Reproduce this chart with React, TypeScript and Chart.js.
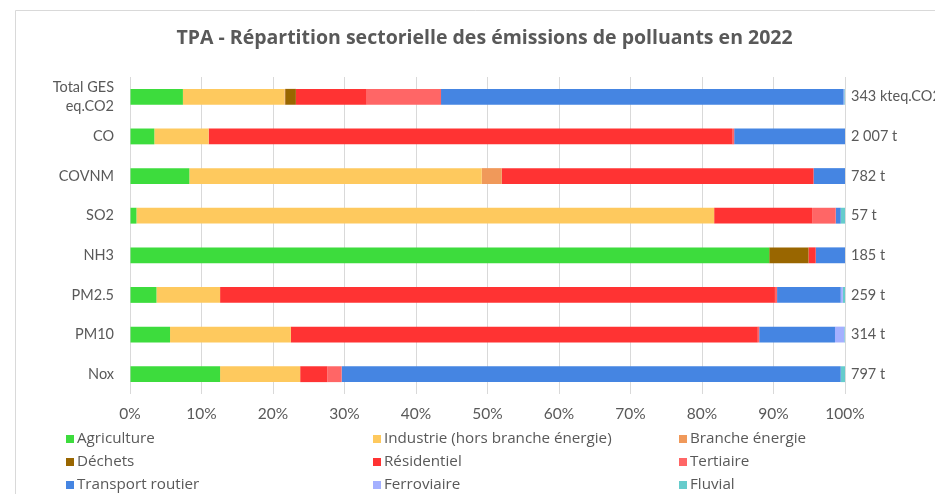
import React, { useEffect, useRef } from "react";
import { Chart, registerables } from "chart.js";

Chart.register(...registerables);

const categories: (string | string[])[] = [
  ["Total GES", "eq.CO2"],
  "CO",
  "COVNM",
  "SO2",
  "NH3",
  "PM2.5",
  "PM10",
  "Nox",
];

const totals = ["343 kteq.CO2", "2 007 t", "782 t", "57 t", "185 t", "259 t", "314 t", "797 t"];

const agriculture = [7.4, 3.4, 8.3, 0.9, 89.4, 3.7, 5.6, 12.6];
const industrie = [14.2, 7.6, 40.9, 80.8, 0, 8.9, 16.9, 11.2];
const brancheEnergie = [0.1, 0, 2.8, 0, 0, 0, 0, 0];
const dechets = [1.5, 0, 0, 0, 5.5, 0, 0, 0];
const residentiel = [9.9, 73.2, 43.6, 13.7, 1.0, 77.6, 65.3, 3.8];
const tertiaire = [10.4, 0.3, 0, 3.3, 0, 0.3, 0.2, 2.0];
const transportRoutier = [56.3, 15.5, 4.4, 0.7, 4.1, 8.9, 10.6, 69.8];
const ferroviaire = [0.1, 0, 0, 0, 0, 0.3, 1.3, 0];
const fluvial = [0.1, 0, 0, 0.6, 0, 0.3, 0.1, 0.6];

const seriesNames = [
  "Agriculture",
  "Industrie (hors branche énergie)",
  "Branche énergie",
  "Déchets",
  "Résidentiel",
  "Tertiaire",
  "Transport routier",
  "Ferroviaire",
  "Fluvial",
];
const seriesValues = [
  agriculture,
  industrie,
  brancheEnergie,
  dechets,
  residentiel,
  tertiaire,
  transportRoutier,
  ferroviaire,
  fluvial,
];
const seriesColors = [
  "#3ddc3d",
  "#fec95e",
  "#f0995a",
  "#996600",
  "#ff3333",
  "#ff6666",
  "#4585e2",
  "#a4b0ff",
  "#66cccc",
];

const xTicks = [0, 10, 20, 30, 40, 50, 60, 70, 80, 90, 100];

const TITLE = "TPA - Répartition sectorielle des émissions de polluants en 2022";
const FONT = "Lato, 'Open Sans', sans-serif";
const FONT2 = "'Open Sans', Lato, sans-serif";
const TEXT = "#595959";

const framePlugin = {
  id: "frame",
  beforeDraw(chart: any) {
    const ctx = chart.ctx;
    ctx.save();
    ctx.fillStyle = "#ffffff";
    ctx.fillRect(0, 0, chart.width, chart.height);
    ctx.strokeStyle = "#d9d9d9";
    ctx.lineWidth = 1;
    ctx.beginPath();
    ctx.moveTo(15.5, chart.height + 5);
    ctx.lineTo(15.5, 10.5);
    ctx.lineTo(chart.width + 5, 10.5);
    ctx.stroke();
    ctx.restore();
  },
};

const titlePlugin = {
  id: "customTitle",
  afterDraw(chart: any) {
    const ctx = chart.ctx;
    ctx.save();
    ctx.font = `bold 19.5px ${FONT2}`;
    ctx.fillStyle = TEXT;
    ctx.textAlign = "center";
    ctx.textBaseline = "middle";
    ctx.fillText(TITLE, 484.5, 38);
    ctx.restore();
  },
};

const sideLabelsPlugin = {
  id: "sideLabels",
  afterDatasetsDraw(chart: any) {
    const ctx = chart.ctx;
    const yScale = chart.scales.y;
    const area = chart.chartArea;
    ctx.save();
    ctx.font = `14.5px ${FONT}`;
    ctx.fillStyle = TEXT;
    ctx.textAlign = "left";
    ctx.textBaseline = "middle";
    totals.forEach((t, i) => {
      ctx.fillText(t, area.right + 6, yScale.getPixelForValue(i));
    });
    ctx.restore();
  },
};

const legendPlugin = {
  id: "customLegend",
  afterDraw(chart: any) {
    const ctx = chart.ctx;
    const colX = [66, 373, 679];
    const rowY = [439, 462, 485];
    ctx.save();
    ctx.font = `15.2px ${FONT2}`;
    ctx.textBaseline = "middle";
    ctx.textAlign = "left";
    chart.data.datasets.forEach((ds: any, i: number) => {
      const x = colX[i % 3];
      const y = rowY[Math.floor(i / 3)];
      ctx.fillStyle = ds.backgroundColor;
      ctx.fillRect(x, y - 4, 8, 8);
      ctx.fillStyle = TEXT;
      ctx.fillText(ds.label, x + 11, y);
    });
    ctx.restore();
  },
};

export default function App() {
  const canvasRef = useRef<HTMLCanvasElement | null>(null);

  useEffect(() => {
    if (!canvasRef.current) return;
    const chart = new Chart(canvasRef.current, {
      type: "bar",
      data: {
        labels: categories,
        datasets: seriesNames.map((name, i) => ({
          label: name,
          data: seriesValues[i],
          backgroundColor: seriesColors[i],
          borderWidth: 0,
          barPercentage: 0.4,
          categoryPercentage: 1,
        })),
      },
      options: {
        indexAxis: "y",
        responsive: false,
        animation: false,
        devicePixelRatio: 1,
        layout: { padding: { left: 0, right: 90, top: 77, bottom: 65 } },
        plugins: {
          legend: { display: false },
          title: { display: false },
          tooltip: {
            callbacks: {
              label: (c: any) => `${c.dataset.label}: ${c.parsed.x}%`,
            },
          },
        },
        scales: {
          x: {
            stacked: true,
            min: 0,
            max: 100,
            afterBuildTicks: (scale: any) => {
              scale.ticks = xTicks.map((v) => ({ value: v }));
            },
            afterFit: (scale: any) => {
              scale.height = 35;
            },
            ticks: {
              color: TEXT,
              font: { family: FONT, size: 15.5 },
              padding: 11,
              maxRotation: 0,
              autoSkip: false,
              callback: (v: any) => `${v}%`,
            },
            grid: { color: "#d9d9d9", drawTicks: false, lineWidth: 1 },
            border: { display: false },
          },
          y: {
            stacked: true,
            afterFit: (scale: any) => {
              scale.width = 130;
            },
            ticks: {
              color: TEXT,
              font: { family: FONT, size: 14.5, lineHeight: 1.33 },
              padding: 16,
              autoSkip: false,
            },
            grid: { display: false, drawTicks: false },
            border: { display: false },
          },
        },
      },
      plugins: [framePlugin, titlePlugin, sideLabelsPlugin, legendPlugin],
    } as any);
    return () => chart.destroy();
  }, []);

  return (
    <div style={{ position: "fixed", left: 0, top: 0, width: 935, height: 494, background: "#fff" }}>
      <canvas ref={canvasRef} width={935} height={494} style={{ width: 935, height: 494, display: "block" }} />
    </div>
  );
}
